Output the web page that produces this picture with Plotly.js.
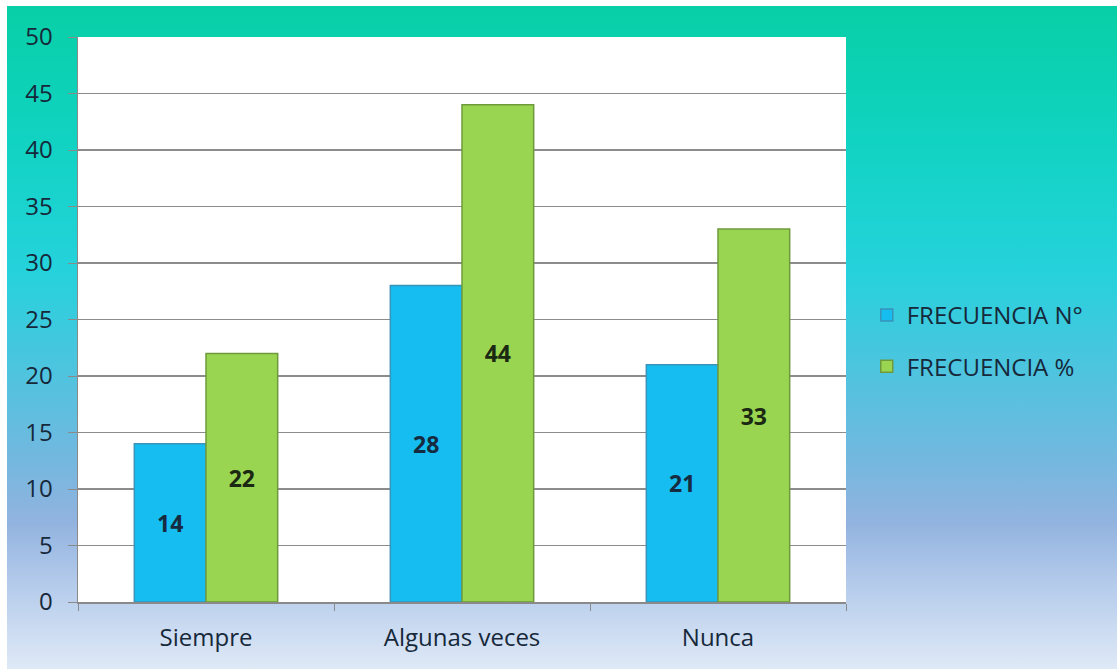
<!DOCTYPE html>
<html>
<head>
<meta charset="utf-8">
<script src="https://cdn.plot.ly/plotly-3.0.1.min.js"></script>
<style>
  html, body { margin: 0; padding: 0; background: #ffffff; }
  #bg { position: absolute; left: 7px; top: 6px; width: 1110px; height: 663px;
        background: linear-gradient(to bottom, #08cfa6 0%, #12d3c4 22%, #25d2dc 40%, #4ec4df 55%, #72b8df 68%, #92b3df 78%, #b7cdec 88%, #dfe9f6 100%); }
  #chart { position: absolute; left: 0; top: 0; width: 1117px; height: 669px; }
</style>
</head>
<body>
<div id="bg"></div>
<div id="chart"></div>
<script>
const categories = ["Siempre", "Algunas veces", "Nunca"];
const frecuenciaN = [14, 28, 21];
const frecuenciaPct = [22, 44, 33];
const seriesNames = ["FRECUENCIA N°", "FRECUENCIA %"];
const yTicks = [0, 5, 10, 15, 20, 25, 30, 35, 40, 45, 50];

const font = "Open Sans, Liberation Sans, sans-serif";

const traces = [
  {
    type: "bar", name: seriesNames[0], x: categories, y: frecuenciaN,
    text: frecuenciaN.map(String), textposition: "inside", insidetextanchor: "middle",
    textfont: { family: font, size: 23, color: "#172b40", weight: "bold" },
    marker: { color: "#16bdf0", line: { color: "#3a93b8", width: 1.5 } },
    legendgroup: "a", hoverinfo: "x+y"
  },
  {
    type: "bar", name: seriesNames[1], x: categories, y: frecuenciaPct,
    text: frecuenciaPct.map(String), textposition: "inside", insidetextanchor: "middle",
    textfont: { family: font, size: 23, color: "#1b2812", weight: "bold" },
    marker: { color: "#99d550", line: { color: "#6f9a3c", width: 1.5 } },
    legendgroup: "b", hoverinfo: "x+y"
  }
];

const layout = {
  width: 1117, height: 669,
  paper_bgcolor: "rgba(0,0,0,0)",
  plot_bgcolor: "#ffffff",
  margin: { l: 78, r: 271, t: 37, b: 67 },
  barmode: "group",
  bargap: 0.44,
  bargroupgap: 0,
  font: { family: font, color: "#16283a" },
  xaxis: {
    type: "category",
    tickson: "boundaries",
    ticks: "outside", ticklen: 7, tickcolor: "#8a8a8a",
    showline: true, linecolor: "#8a8a8a", linewidth: 1.5,
    tickfont: { family: font, size: 24, color: "#16283a" },
    ticklabelstandoff: 14,
    showgrid: false
  },
  yaxis: {
    range: [0, 50],
    tickvals: yTicks,
    ticktext: yTicks.map(String),
    ticks: "outside", ticklen: 9, tickcolor: "#8a8a8a",
    showline: true, linecolor: "#8a8a8a", linewidth: 1.5,
    showgrid: true, gridcolor: "#8c8c8c", gridwidth: 1.5,
    zeroline: false,
    tickfont: { family: font, size: 24, color: "#16283a" },
    ticklabelstandoff: 10
  },
  showlegend: true,
  legend: {
    x: 1.027, xanchor: "left", y: 0.462, yanchor: "middle",
    bgcolor: "rgba(0,0,0,0)",
    font: { family: font, size: 24, color: "#16283a" },
    traceorder: "grouped", tracegroupgap: 17,
    itemwidth: 30
  }
};

Plotly.newPlot("chart", traces, layout, { displayModeBar: false, staticPlot: true });
</script>
</body>
</html>
